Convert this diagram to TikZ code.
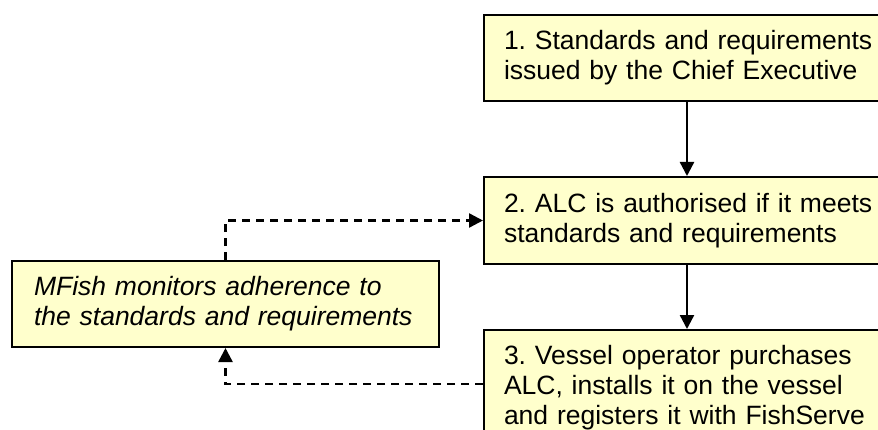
\documentclass[tikz,border=0pt]{standalone}
\usepackage{fontspec}
\setmainfont{Liberation Sans}
\usetikzlibrary{arrows.meta,positioning}
\definecolor{boxyellow}{RGB}{255,255,204}
\frenchspacing

\begin{document}
\begin{tikzpicture}[x=1pt, y=1pt,
  stage/.style={
    draw, line width=2pt, fill=boxyellow, anchor=north west,
    text width=375pt, inner xsep=20pt, inner ysep=0pt, align=left,
    font=\fontsize{26.5}{30}\selectfont
  },
  flow/.style={-{Triangle[length=14pt,width=14pt]}, line width=2.4pt},
  loop/.style={flow, dash pattern=on 8pt off 6pt},
]
\useasboundingbox (0,0) rectangle (878,429);
\clip (0,0) rectangle (878,429);

\node[stage, minimum height=86pt] (std) at (483,415)
  {1. Standards and requirements\\issued by the Chief Executive};

\node[stage, minimum height=87pt, below=74pt of std] (auth)
  {2. ALC is authorised if it meets\\standards and requirements};

\node[stage, minimum height=116pt, below=64pt of auth] (reg)
  {3. Vessel operator purchases\\ALC, installs it on the vessel\\and registers it with FishServe};

\node[stage, text width=383pt, inner xsep=22pt, minimum height=86pt,
  font=\fontsize{26.5}{30}\selectfont\itshape] (mon) at (11,169)
  {MFish monitors adherence to\\the standards and requirements};

\draw[flow] ([xshift=204pt]std.south west) -- ([xshift=204pt]auth.north west);
\draw[flow] ([xshift=204pt]auth.south west) -- ([xshift=204pt]reg.north west);

\draw[loop] (mon.north) |- (auth.west);
\draw[loop] ([yshift=-55pt]reg.north west) -| (mon.south);

\end{tikzpicture}
\end{document}
